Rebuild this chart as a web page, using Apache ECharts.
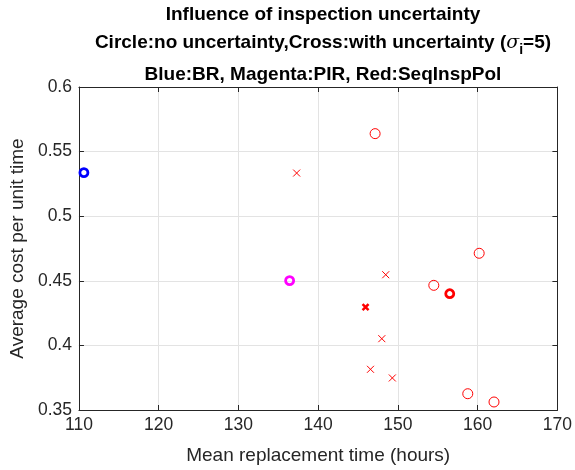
<!DOCTYPE html>
<html><head><meta charset="utf-8">
<script src="https://cdn.jsdelivr.net/npm/echarts@6/dist/echarts.min.js"></script>
<style>html,body{margin:0;padding:0;background:#fff}#c{width:575px;height:470px}</style>
</head><body><div id="c"></div>
<script>
// ---- data ----
const xTicks = [110, 120, 130, 140, 150, 160, 170];
const yTicks = [0.35, 0.4, 0.45, 0.5, 0.55, 0.6];
const blueBR = [[110.62, 0.5337]];
const magentaPIR = [[136.42, 0.4501]];
const redSeqCircleBold = [[156.5, 0.4400]];
const redSeqCrossBold = [[145.94, 0.4297]];
const redCircles = [[147.14, 0.5639], [160.19, 0.4713], [154.5, 0.4465], [158.76, 0.3626], [162.05, 0.3562]];
const redCrosses = [[137.3, 0.5334], [148.47, 0.4547], [147.98, 0.4052], [146.56, 0.3815], [149.3, 0.3748]];

const FONT = '"Liberation Sans", Arial, Helvetica, sans-serif';
const crossPath = 'path://M0,0L10,10M10,0L0,10';
const TXT = '#262626';

const chart = echarts.init(document.getElementById('c'), null, {renderer: 'canvas'});

function axisCommon(show) {
  return {
    axisLine: {show: true, onZero: false, lineStyle: {color: TXT, width: 1}},
    axisTick: {show: true, inside: true, length: 5, lineStyle: {color: TXT}},
    splitLine: {show: show, lineStyle: {color: '#e3e3e3', width: 1}},
  };
}

const option = {
  animation: false,
  title: [
    {text: 'Influence of inspection uncertainty', left: 318, textAlign: 'center', top: 0,
     textStyle: {fontFamily: FONT, fontSize: 19, fontWeight: 'bold', color: '#000'}},
    {text: 'Circle:no uncertainty,Cross:with uncertainty ({s|σ}{sub|i}=5)', left: 318, textAlign: 'center', top: 24,
     textStyle: {fontFamily: FONT, fontSize: 19, fontWeight: 'bold', color: '#000',
       rich: {
         s: {fontFamily: '"DejaVu Serif", serif', fontStyle: 'italic', fontSize: 19, fontWeight: 'normal', color: '#000'},
         sub: {fontFamily: FONT, fontSize: 14, fontWeight: 'bold', color: '#000', padding: [14, 0, 0, 0]}
       }}},
    {text: 'Blue:BR, Magenta:PIR, Red:SeqInspPol', left: 318, textAlign: 'center', top: 60,
     textStyle: {fontFamily: FONT, fontSize: 19, fontWeight: 'bold', color: '#000'}}
  ],
  grid: {left: 76, right: 16, top: 87, bottom: 60, containLabel: false},
  xAxis: [
    Object.assign({type: 'value', min: 110, max: 170, interval: 10,
      name: 'Mean replacement time (hours)', nameLocation: 'middle', nameGap: 36,
      nameTextStyle: {fontFamily: FONT, fontSize: 19, color: TXT},
      axisLabel: {fontFamily: FONT, fontSize: 17.5, color: TXT, margin: 6,
        formatter: v => xTicks.includes(v) ? String(v) : ''}}, axisCommon(true)),
    Object.assign({type: 'value', min: 110, max: 170, interval: 10, position: 'top',
      axisLabel: {show: false}}, axisCommon(false))
  ],
  yAxis: [
    Object.assign({type: 'value', min: 0.35, max: 0.6, interval: 0.05,
      name: 'Average cost per unit time', nameLocation: 'middle', nameGap: 49,
      nameTextStyle: {fontFamily: FONT, fontSize: 19, color: TXT},
      axisLabel: {fontFamily: FONT, fontSize: 17.5, color: TXT, margin: 7,
        formatter: v => { const t = yTicks.find(k => Math.abs(k - v) < 1e-9); return t === undefined ? '' : String(t); }}}, axisCommon(true)),
    Object.assign({type: 'value', min: 0.35, max: 0.6, interval: 0.05, position: 'right',
      axisLabel: {show: false}}, axisCommon(false))
  ],
  series: [
    {type: 'scatter', data: blueBR, symbol: 'circle', symbolSize: 8,
     itemStyle: {opacity: 1, color: 'rgba(0,0,0,0)', borderColor: '#0000ff', borderWidth: 2.8}},
    {type: 'scatter', data: magentaPIR, symbol: 'circle', symbolSize: 8,
     itemStyle: {opacity: 1, color: 'rgba(0,0,0,0)', borderColor: '#ff00ff', borderWidth: 2.8}},
    {type: 'scatter', data: redSeqCircleBold, symbol: 'circle', symbolSize: 8,
     itemStyle: {opacity: 1, color: 'rgba(0,0,0,0)', borderColor: '#ff0000', borderWidth: 2.8}},
    {type: 'scatter', data: redSeqCrossBold, symbol: crossPath, symbolSize: 6,
     itemStyle: {opacity: 1, color: 'none', borderColor: '#ff0000', borderWidth: 2.5}},
    {type: 'scatter', data: redCircles, symbol: 'circle', symbolSize: 10,
     itemStyle: {opacity: 1, color: 'rgba(0,0,0,0)', borderColor: '#ff0000', borderWidth: 1}},
    {type: 'scatter', data: redCrosses, symbol: crossPath, symbolSize: 7,
     itemStyle: {opacity: 1, color: 'none', borderColor: '#ff0000', borderWidth: 1}}
  ]
};
chart.setOption(option);
</script>
</body></html>
